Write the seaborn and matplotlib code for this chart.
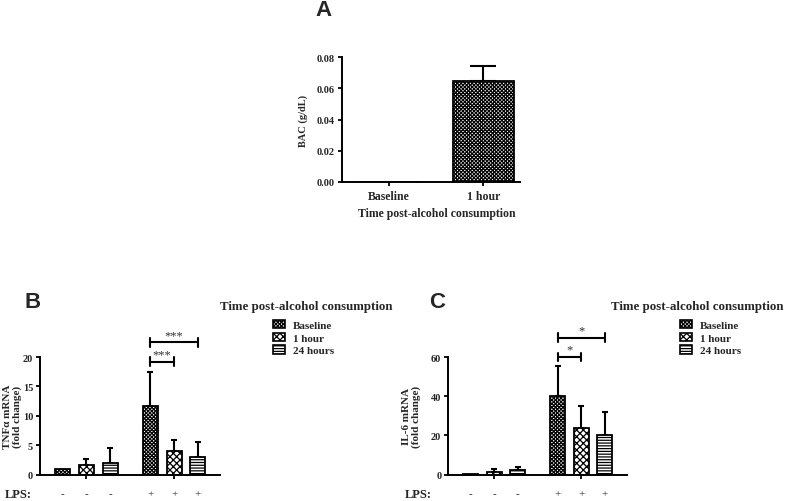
"""
BAC and LPS-induced cytokine mRNA after alcohol consumption (panels A-C).
"""

import numpy as np
import matplotlib
matplotlib.use('Agg')
import matplotlib.pyplot as plt
import matplotlib.transforms as mtransforms
from matplotlib.patches import Patch
import seaborn as sns

sns.set_style("ticks")
plt.rcParams['font.family'] = ['Liberation Serif', 'DejaVu Serif']
plt.rcParams['font.weight'] = 'bold'
plt.rcParams['axes.labelweight'] = 'bold'
plt.rcParams['hatch.linewidth'] = 0.9
plt.rcParams['hatch.color'] = 'black'

# ---- data ----
bac_groups = ['Baseline', '1 hour']
bac_mean = [0.0, 0.0645]
bac_sd = [0.0, 0.0100]

time_groups = ['Baseline', '1 hour', '24 hours']
lps_labels = ['-', '-', '-', '+', '+', '+']
tnf_mean = [1.0, 1.65, 1.95, 11.6, 4.1, 3.05]
tnf_sd = [0.0, 1.0, 2.55, 5.9, 1.75, 2.45]
il6_mean = [0.5, 1.5, 2.2, 40.0, 24.0, 20.3]
il6_sd = [0.0, 1.2, 1.5, 15.2, 11.0, 11.7]

# significance brackets: (bar i, bar j, label, height)
tnf_sig = [(3, 4, '***', 19.2), (3, 5, '***', 22.5)]
il6_sig = [(3, 4, '*', 60.0), (3, 5, '*', 69.8)]

hatches = ['xxxxxxxxx', 'xxxxx', '------']
W, H = 800, 502


def px_axes(fig, left, right, top, bottom):
    return fig.add_axes([left / W, 1 - bottom / H, (right - left) / W, (bottom - top) / H])


def style_axes(ax):
    sns.despine(ax=ax)
    for s in ['left', 'bottom']:
        ax.spines[s].set_linewidth(1.4)
        ax.spines[s].set_color('black')
    ax.tick_params(axis='both', direction='out', length=3, width=1.3,
                   labelsize=7.5, color='black', pad=2)


def add_errorbars(ax, x, mean, sd, capsize):
    x = np.asarray(x, float)
    mean = np.asarray(mean, float)
    sd = np.asarray(sd, float)
    m = sd > 0
    ax.errorbar(x[m], mean[m], yerr=[np.zeros(m.sum()), sd[m]], fmt='none',
                ecolor='black', elinewidth=1.5, capsize=capsize, capthick=1.5,
                zorder=1, clip_on=False)


fig = plt.figure(figsize=(W / 100, H / 100), dpi=100)

# ---- Panel A ----
axA = px_axes(fig, 342, 520, 58, 183)
sns.barplot(x=bac_groups, y=bac_mean, ax=axA, color='white', edgecolor='black',
            linewidth=1.3, width=0.65, errorbar=None, zorder=2)
for p, h in zip(axA.patches, ['', hatches[0]]):
    p.set_hatch(h)
add_errorbars(axA, [0, 1], bac_mean, bac_sd, capsize=9.5)
axA.set_ylim(0, 0.08)
axA.set_xlim(-0.5, 1.39)
axA.set_yticks([0, 0.02, 0.04, 0.06, 0.08])
axA.set_yticklabels(['0.00', '0.02', '0.04', '0.06', '0.08'])
style_axes(axA)
axA.tick_params(axis='x', labelsize=8.5, pad=3)
axA.set_ylabel('BAC (g/dL)', fontsize=7.5)
axA.yaxis.set_label_coords(-0.19, 0.5)
axA.set_xlabel('Time post-alcohol consumption', fontsize=8.5)
axA.xaxis.set_label_coords(0.53, -0.2)
fig.text(324 / W, 1 - 10 / H, 'A', family='Liberation Sans', fontsize=16,
         fontweight='bold', ha='center', va='center')

# ---- Panels B and C ----
positions = [g * 3.7 + i for g in range(2) for i in range(3)]


def cytokine_panel(left, right, mean, sd, ylim, yticks, ylabel, label_x,
                   sig, letter, letter_x, lps_x, title_x, patch_x):
    ax = px_axes(fig, left, right, 358, 475.7)
    sns.barplot(x=positions, y=mean, ax=ax, native_scale=True, color='white',
                edgecolor='black', linewidth=1.3, width=0.63, errorbar=None, zorder=2)
    for p, h in zip(ax.patches, hatches * 2):
        p.set_hatch(h)
    add_errorbars(ax, positions, mean, sd, capsize=2.5)
    ax.set_ylim(*ylim)
    ax.set_xlim(-0.96, 6.64)
    ax.set_yticks(yticks)
    ax.set_xticks([positions[1], positions[4]])
    ax.set_xticklabels(['', ''])
    style_axes(ax)
    ax.set_ylabel(ylabel, fontsize=8, linespacing=1.1)
    ax.yaxis.set_label_coords(label_x, 0.5)

    # significance brackets
    dy = (ylim[1] - ylim[0]) / 117.7 * 4.3
    for i, j, txt, yb in sig:
        xi, xj = positions[i], positions[j]
        ax.plot([xi, xj], [yb, yb], color='black', lw=1.5, clip_on=False)
        for xx in (xi, xj):
            ax.plot([xx, xx], [yb - dy, yb + dy], color='black', lw=1.5, clip_on=False)
        ax.text((xi + xj) / 2, yb + dy * 0.3, txt, ha='center', va='bottom',
                fontsize=9, fontweight='normal', color='#333333', clip_on=False)

    # LPS row
    tr = mtransforms.blended_transform_factory(ax.transData, fig.transFigure)
    for x, s in zip(positions, lps_labels):
        ax.text(x, 1 - 495 / H, s, transform=tr, ha='center', va='center',
                fontsize=8, fontweight='normal')
    fig.text(lps_x / W, 1 - 495 / H, 'LPS:', ha='left', va='center', fontsize=9)

    fig.text(letter_x / W, 1 - 302 / H, letter, family='Liberation Sans',
             fontsize=16, fontweight='bold', ha='center', va='center')

    # legend
    fig.text(title_x / W, 1 - 307 / H, 'Time post-alcohol consumption',
             ha='left', va='center', fontsize=9.3)
    handles = [Patch(facecolor='white', edgecolor='black', hatch=h, linewidth=1.2)
               for h in hatches]
    fig.legend(handles, time_groups, loc='upper left',
               bbox_to_anchor=(patch_x / W, 1 - 321 / H), frameon=False,
               borderpad=0, borderaxespad=0, handlelength=1.1, handleheight=0.75,
               handletextpad=0.7, labelspacing=0.25, fontsize=8)
    return ax


axB = cytokine_panel(40, 220, tnf_mean, tnf_sd, (0, 20), [0, 5, 10, 15, 20],
                     'TNF\u03b1 mRNA\n(fold change)', -0.1, tnf_sig,
                     'B', 33, 5, 220, 273)
axC = cytokine_panel(448.3, 626.7, il6_mean, il6_sd, (0, 60), [0, 20, 40, 60],
                     'IL-6 mRNA\n(fold change)', -0.153, il6_sig,
                     'C', 437, 405, 611, 680)

plt.savefig('out.png', dpi=100)
